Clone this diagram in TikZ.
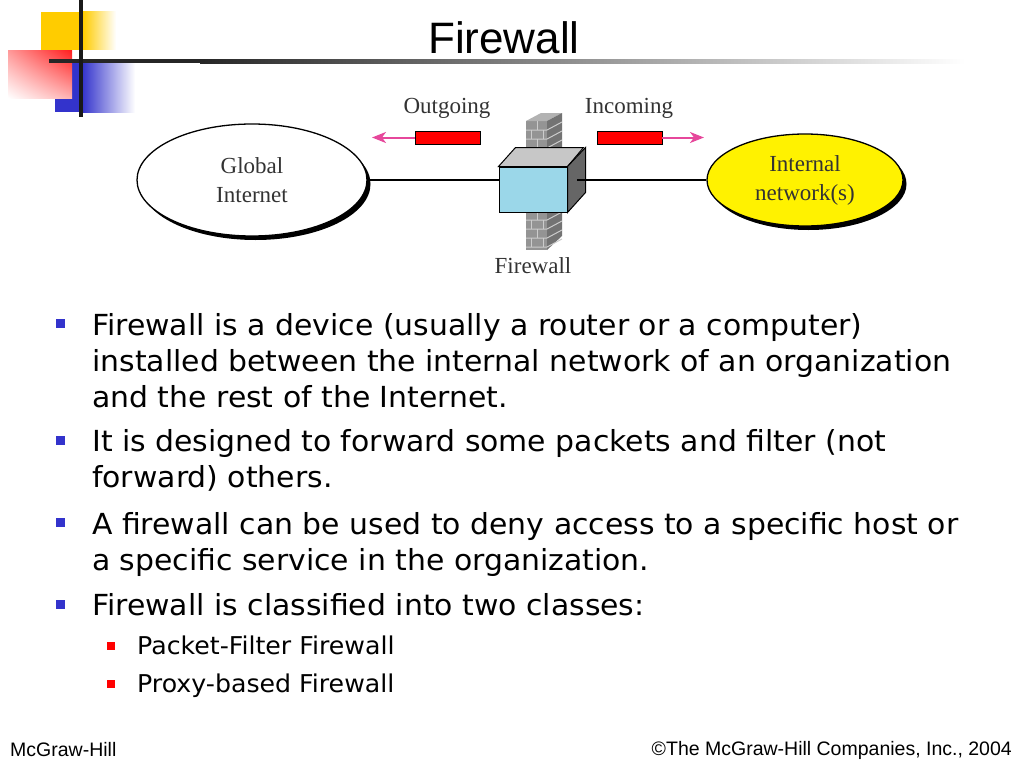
\documentclass[tikz,border=0pt]{standalone}
\usepackage{fontspec}
\setmainfont{Liberation Serif}
\setsansfont{Liberation Sans}
\newfontfamily\bodyfont{DejaVu Sans}[FakeStretch=1.03]
\usetikzlibrary{shapes.geometric,arrows.meta,shadows,shadings,positioning}

\definecolor{logoyellow}{HTML}{FFCC00}
\definecolor{logored}{HTML}{FF2020}
\definecolor{logoblue}{HTML}{3333CC}
\definecolor{boxblue}{HTML}{9BD7E9}
\definecolor{arrowpink}{HTML}{E6479B}
\definecolor{labelgray}{HTML}{333333}

\begin{document}
\begin{tikzpicture}[x=1pt,y=-1pt,
    net/.style={ellipse,draw,fill=white,line width=1.3pt,align=center,text=labelgray,
      font=\fontsize{23}{29}\selectfont,
      drop shadow={opacity=1,fill=black,shadow xshift=3.5pt,shadow yshift=-4pt}},
    bar/.style={draw,fill=red,minimum width=65pt,minimum height=13pt,inner sep=0pt},
    tag/.style={text=labelgray,font=\fontsize{23}{28}\selectfont,inner sep=0pt},
    item/.style={anchor=base west,align=left,inner sep=0pt,
      font=\bodyfont\fontsize{29}{36}\selectfont},
    subitem/.style={anchor=base west,align=left,inner sep=0pt,
      font=\bodyfont\fontsize{24.5}{38}\selectfont}]
  \useasboundingbox (0,0) rectangle (1024,768);

  % logo
  \fill[logoyellow] (41,12) rectangle (83,50);
  \shade[left color=logoyellow,right color=white] (83,12) rectangle (116,50);
  \fill[logoblue] (55,62) rectangle (82,112);
  \shade[left color=logoblue,right color=white] (82,62) rectangle (135,112);
  \shade[upper right=logored,upper left=logored!45,lower right=logored!35,lower left=white]
    (8,51) rectangle (72,98);
  \fill[black!85] (49,59) rectangle (200,63);
  \shade[left color=black!85,right color=white] (200,59) rectangle (965,63);
  \fill[black!90] (79,0) rectangle (83,117);

  \node[font=\sffamily\fontsize{44}{50}\selectfont,anchor=base] (title) at (504,54) {Firewall};

  % wall
  \fill[black!42] (526,121) rectangle (547,250);
  \fill[black!30] (526,121) -- (541,113) -- (562,113) -- (547,121) -- cycle;
  \fill[black!55] (547,121) -- (562,113) -- (562,236) -- (547,250) -- cycle;
  \foreach \y in {130,139,...,247}
    \draw[black!20,line width=1pt] (526,\y) -- (547,\y) -- ++(15,-8);
  \foreach \y in {121,139,...,241}
    \draw[black!20,line width=1pt] (537,\y) -- ++(0,9);
  \foreach \y in {130,148,...,241}
    \draw[black!20,line width=1pt] (531,\y) -- ++(0,9) (543,\y) -- ++(0,9);

  % box
  \node[draw,fill=boxblue,minimum width=68pt,minimum height=45pt,inner sep=0pt,line width=1pt] (fw) at (533,189.5) {};
  \draw[fill=black!22,line width=1pt] (fw.north west) -- ++(17,-19) -- ++(68,0) -- (fw.north east) -- cycle;
  \draw[fill=black!60,line width=1pt] (fw.north east) -- ++(18,-19) -- ++(0,45) -- (fw.south east) -- cycle;
  \coordinate (fwr) at (577,180);

  \node[net,minimum width=230pt,minimum height=112pt] (global) at (252,180) {Global\\Internet};
  \node[net,fill=yellow,minimum width=196pt,minimum height=92pt] (internal) at (805,180) {Internal\\network(s)};

  \draw[line width=1.3pt] (global.east) -- (global.east -| fw.west);
  \draw[line width=1.3pt] (fwr) -- (internal.west);

  \node[bar] (outbar) at (447.5,137.5) {};
  \node[bar] (inbar) at (629.5,137.5) {};
  \coordinate (outtip) at (372,137.5);
  \coordinate (intip) at (704,137.5);
  \draw[arrowpink,line width=2pt,-{Stealth[length=14pt,width=11pt,inset=4pt]}] (outbar.west) -- (outtip);
  \draw[arrowpink,line width=2pt,-{Stealth[length=14pt,width=11pt,inset=4pt]}] (inbar.east) -- (intip);

  \node[tag] (outlabel) at (447,108) {Outgoing};
  \node[tag] (inlabel) at (629,108) {Incoming};
  \node[tag] (fwlabel) at (533,266) {Firewall};

  % bullets
  \foreach \y in {323,440,522,604}
    \fill[logoblue] (56,\y-4) rectangle ++(9,9);
  \foreach \y in {645,683}
    \fill[red] (107,\y-3) rectangle ++(8,8);

  \node[item] (p1) at (92,407) {Firewall is a device (usually a router or a computer)\\installed between the internal network of an organization\\and the rest of the Internet.};
  \node[item] (p2) at (92,487) {It is designed to forward some packets and filter (not\\forward) others.};
  \node[item] (p3) at (92,570) {A firewall can be used to deny access to a specific host or\\a specific service in the organization.};
  \node[item] (p4) at (92,615) {Firewall is classified into two classes:};
  \node[subitem] (s1) at (137,654) {Packet-Filter Firewall};
  \node[subitem] (s2) at (137,692) {Proxy-based Firewall};

  \node[font=\sffamily\fontsize{19.5}{22}\selectfont,anchor=west,inner sep=0pt] (pub) at (10,750) {McGraw-Hill};
  \node[font=\sffamily\fontsize{19.5}{22}\selectfont,anchor=east,inner sep=0pt] (copy) at (1012,750) {©The McGraw-Hill Companies, Inc., 2004};
\end{tikzpicture}
\end{document}
